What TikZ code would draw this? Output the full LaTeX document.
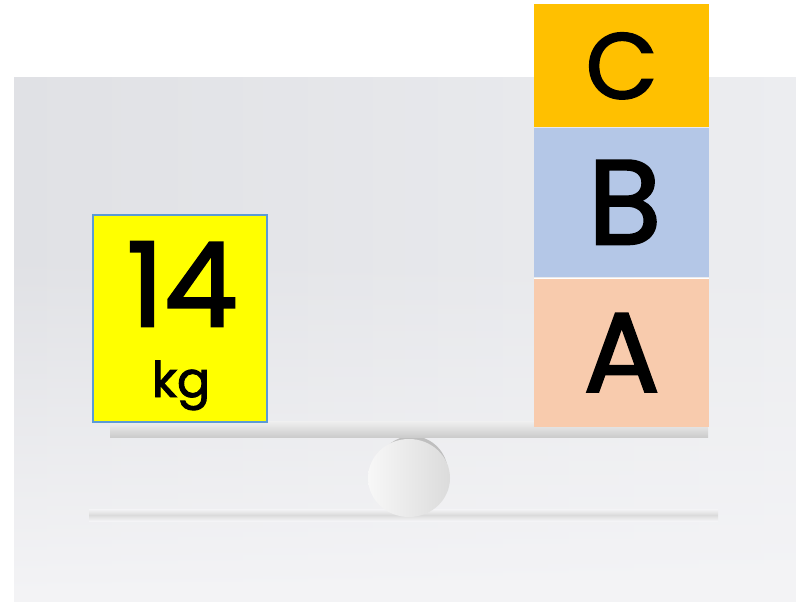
\documentclass[tikz,border=0pt]{standalone}
\usepackage{fontspec}
\setmainfont{Poppins}
\newfontfamily\handfont{Poppins}[FakeBold=2]
\usepackage{tikz}
\usetikzlibrary{positioning, fadings}
\usepackage{xcolor}
\definecolor{photoL}{RGB}{224,225,229}
\definecolor{photoR}{RGB}{236,237,240}
\definecolor{photoB}{RGB}{244,244,246}
\definecolor{weightyellow}{RGB}{255,255,0}
\definecolor{weightedge}{RGB}{91,155,213}
\definecolor{boxC}{RGB}{255,192,0}
\definecolor{boxB}{RGB}{180,199,231}
\definecolor{boxA}{RGB}{248,203,173}
\newcommand{\sizefont}[1]{\handfont\fontsize{#1}{#1}\selectfont}

\tikzset{
  block/.style={anchor=north west, inner sep=0pt, minimum width=175pt},
  letter/.style={inner sep=0pt, text=black},
}

\begin{document}
\begin{tikzpicture}[x=1pt,y=-1pt]
  \useasboundingbox (0,0) rectangle (796,602);
  % photo backdrop
  \shade[left color=photoL, right color=photoR] (14,78) rectangle (796,602);
  \fill[photoB, path fading=north] (14,250) rectangle (796,602);
  % floor shadow
  \shade[top color=photoB, bottom color=photoB, middle color=gray!28] (89,509) rectangle (718,521);
  % seesaw
  \fill[gray!50] (412,473) ellipse (36 and 37);
  \shade[left color=gray!6, right color=gray!28] (409,478) ellipse (41 and 39);
  \shade[top color=gray!12, bottom color=gray!40] (110,421) rectangle (708,437);
  % weight on the left
  \node[block, fill=weightyellow, draw=weightedge, line width=1.5pt, minimum width=174pt, minimum height=207pt] (weight) at (92,214) {};
  \node[letter, font=\sizefont{117}] (wnum) at (182,284) {14};
  \node[letter, font=\sizefont{49}, anchor=base] (wunit) at (181,397) {kg};
  % stack on the right
  \node[block, fill=boxA, minimum height=149pt] (boxA) at (534,278) {};
  \node[block, fill=boxB, minimum height=149pt, above=1pt of boxA] (boxB) {};
  \node[block, fill=boxC, minimum height=123pt, above=0pt of boxB] (boxC) {};
  \draw[white] (boxA.north west) -- (boxA.north east);
  \node[letter, font=\sizefont{113}] (labA) at (boxA.center) {A};
  \node[letter, font=\sizefont{120}] (labB) at ([xshift=3pt]boxB.center) {B};
  \node[letter, font=\sizefont{93}] (labC) at (boxC.center) {C};
\end{tikzpicture}
\end{document}
